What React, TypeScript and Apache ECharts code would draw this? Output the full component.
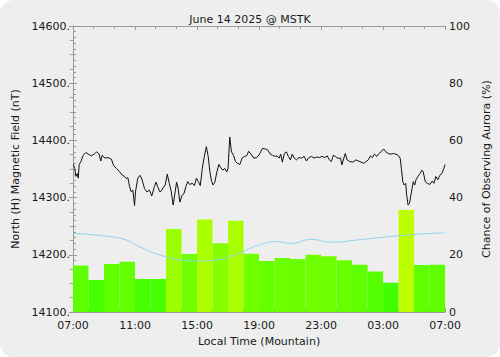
import React, { useEffect, useRef } from "react";
import * as echarts from "echarts";

const titleText = "June 14 2025 @ MSTK";
const xTickLabels = ["07:00", "11:00", "15:00", "19:00", "23:00", "03:00", "07:00"];

// Magnetic field (hours since 07:00 local, nT)
const magHours = [
  0.02, 0.11, 0.19, 0.28, 0.34, 0.4, 0.51, 0.66, 0.83, 0.98, 1.2, 1.41, 1.52, 1.68, 1.79, 1.88, 2.05, 2.26, 2.48, 2.62,
  2.8, 3.01, 3.18, 3.33, 3.44, 3.54, 3.65, 3.76, 3.86, 3.97, 4.03, 4.18, 4.33, 4.46, 4.61, 4.76, 4.93, 5.08, 5.25, 5.36,
  5.46, 5.61, 5.74, 5.78, 5.95, 6.08, 6.21, 6.34, 6.46, 6.59, 6.68, 6.78, 6.89, 7.02, 7.17, 7.28, 7.4, 7.53, 7.7, 7.83,
  7.96, 8.08, 8.21, 8.34, 8.47, 8.6, 8.72, 8.83, 8.94, 9.04, 9.15, 9.28, 9.41, 9.54, 9.66, 9.79, 9.92, 10.0, 10.11, 10.22,
  10.35, 10.48, 10.6, 10.77, 10.9, 11.07, 11.2, 11.33, 11.48, 11.65, 11.86, 12.03, 12.22, 12.4, 12.56, 12.72, 12.86, 13.04, 13.16, 13.29,
  13.4, 13.5, 13.63, 13.76, 13.89, 14.02, 14.14, 14.27, 14.42, 14.57, 14.74, 14.91, 15.06, 15.21, 15.38, 15.55, 15.72, 15.89, 16.06, 16.24,
  16.4, 16.53, 16.66, 16.79, 16.92, 17.04, 17.26, 17.34, 17.47, 17.56, 17.68, 17.84, 18.05, 18.26, 18.41, 18.58, 18.75, 18.9, 19.05, 19.18,
  19.31, 19.44, 19.6, 19.73, 19.9, 20.03, 20.18, 20.33, 20.5, 20.67, 20.82, 20.97, 21.1, 21.18, 21.27, 21.36, 21.46, 21.52, 21.61, 21.7,
  21.78, 21.87, 21.95, 22.04, 22.12, 22.25, 22.38, 22.51, 22.59, 22.72, 22.85, 23.02, 23.17, 23.28, 23.4, 23.53, 23.66, 23.79, 23.92, 24.0,
];
const magValues = [
  14358, 14351, 14337, 14342, 14334, 14358, 14363, 14374, 14379, 14376, 14373, 14377, 14380, 14376, 14364, 14374, 14369, 14370, 14367, 14356,
  14351, 14345, 14339, 14337, 14333, 14335, 14319, 14310, 14313, 14286, 14310, 14334, 14339, 14331, 14316, 14310, 14313, 14303, 14319, 14327,
  14319, 14310, 14313, 14316, 14322, 14341, 14325, 14310, 14287, 14310, 14327, 14316, 14292, 14303, 14308, 14319, 14328, 14323, 14325, 14321,
  14334, 14328, 14321, 14351, 14372, 14389, 14372, 14345, 14328, 14322, 14327, 14345, 14358, 14352, 14348, 14351, 14345, 14351, 14406, 14380,
  14374, 14363, 14360, 14358, 14369, 14372, 14373, 14381, 14376, 14369, 14370, 14376, 14386, 14385, 14383, 14376, 14374, 14372, 14373, 14369,
  14376, 14362, 14377, 14380, 14372, 14366, 14376, 14369, 14366, 14370, 14369, 14372, 14364, 14370, 14372, 14369, 14371, 14370, 14372, 14370,
  14373, 14366, 14363, 14374, 14372, 14369, 14369, 14357, 14369, 14377, 14366, 14363, 14362, 14366, 14364, 14362, 14360, 14363, 14366, 14373,
  14370, 14376, 14372, 14377, 14381, 14385, 14380, 14377, 14376, 14377, 14376, 14374, 14369, 14351, 14328, 14322, 14325, 14305, 14287, 14290,
  14302, 14316, 14328, 14322, 14331, 14337, 14342, 14348, 14345, 14328, 14325, 14323, 14329, 14325, 14337, 14331, 14339, 14342, 14351, 14358,
];

// Smooth light-blue curve (right axis, %)
const probHours = [0, 2.16, 3.44, 4.29, 6.02, 7.92, 9.2, 10.69, 11.97, 13.04, 14.08, 15.36, 16.64, 18.37, 19.44, 20.93, 22.21, 24];
const probValues = [27.5, 26.5, 25.2, 22.8, 19.3, 17.8, 18.2, 20.5, 23.4, 24.6, 24.0, 25.4, 24.4, 25.2, 25.8, 26.6, 27.2, 27.7];

// Hourly chance of observing aurora (%)
const barHours = ["07", "08", "09", "10", "11", "12", "13", "14", "15", "16", "17", "18", "19", "20", "21", "22", "23", "00", "01", "02", "03", "04", "05", "06"];
const barValues = [16.3, 11.2, 16.8, 17.6, 11.5, 11.5, 29.0, 20.3, 32.3, 24.0, 31.9, 20.4, 17.8, 18.9, 18.5, 20.0, 19.5, 18.1, 16.5, 14.2, 10.2, 35.7, 16.4, 16.5];

function barColor(v: number) {
  const r = Math.round(Math.min(255, 16 + 4.8 * v));
  return `rgb(${r},255,0)`;
}

const FONT = "DejaVu Sans, Verdana, sans-serif";
const FS = 11;
const AX = "#9a9a9a";
const TXT = "#1a1a1a";

export default function App() {
  const ref = useRef<HTMLDivElement>(null);
  useEffect(() => {
    document.body.style.margin = "0";
    const chart = echarts.init(ref.current!, null, { renderer: "svg" });
    const tickCommon = { show: true, inside: true, length: 4, lineStyle: { color: AX } };
    chart.setOption({
      animation: false,
      backgroundColor: "transparent",
      title: {
        text: titleText,
        left: "center",
        top: 9,
        textStyle: { fontFamily: FONT, fontSize: FS, fontWeight: "normal", color: TXT },
      },
      grid: { left: 73, right: 52, top: 26, bottom: 45 },
      xAxis: [
        {
          type: "value",
          min: 0,
          max: 24,
          interval: 4,
          position: "bottom",
          name: "Local Time (Mountain)",
          nameLocation: "middle",
          nameGap: 22,
          nameTextStyle: { fontFamily: FONT, fontSize: FS, color: TXT },
          axisLine: { show: true, lineStyle: { color: AX } },
          axisTick: tickCommon,
          minorTick: { show: true, splitNumber: 4, length: 3, lineStyle: { color: AX } },
          splitLine: { show: false },
          axisLabel: {
            fontFamily: FONT,
            fontSize: FS,
            color: TXT,
            margin: 8,
            formatter: (v: number) => xTickLabels[Math.round(v / 4)] ?? "",
          },
        },
        {
          type: "value",
          min: 0,
          max: 24,
          interval: 4,
          position: "top",
          axisLine: { show: true, lineStyle: { color: AX } },
          axisTick: tickCommon,
          minorTick: { show: true, splitNumber: 3, length: 3, lineStyle: { color: AX } },
          splitLine: { show: false },
          axisLabel: { show: false },
        },
        {
          type: "category",
          data: barHours,
          boundaryGap: true,
          show: false,
        },
      ],
      yAxis: [
        {
          type: "value",
          min: 14100,
          max: 14600,
          interval: 100,
          position: "left",
          name: "North (H) Magnetic Field (nT)",
          nameLocation: "middle",
          nameGap: 50,
          nameTextStyle: { fontFamily: FONT, fontSize: FS, color: TXT },
          axisLine: { show: true, lineStyle: { color: AX } },
          axisTick: tickCommon,
          minorTick: { show: true, splitNumber: 10, length: 3, lineStyle: { color: AX } },
          splitLine: { show: false },
          axisLabel: { fontFamily: FONT, fontSize: FS, color: TXT, margin: 3, formatter: (v: number) => v + "." },
        },
        {
          type: "value",
          min: 0,
          max: 100,
          interval: 20,
          position: "right",
          name: "Chance of Observing Aurora (%)",
          nameLocation: "middle",
          nameGap: 27,
          nameRotate: 90,
          nameTextStyle: { fontFamily: FONT, fontSize: FS, color: TXT },
          axisLine: { show: true, lineStyle: { color: AX } },
          axisTick: tickCommon,
          minorTick: { show: true, splitNumber: 4, length: 3, lineStyle: { color: AX } },
          splitLine: { show: false },
          axisLabel: { fontFamily: FONT, fontSize: FS, color: TXT, margin: 4 },
        },
      ],
      series: [
        {
          type: "bar",
          xAxisIndex: 2,
          yAxisIndex: 1,
          barCategoryGap: "0%",
          data: barValues.map((v) => ({
            value: v,
            itemStyle: { color: barColor(v) },
          })),
          z: 1,
        },
        {
          type: "line",
          xAxisIndex: 0,
          yAxisIndex: 1,
          data: probHours.map((h, i) => [h, probValues[i]]),
          smooth: true,
          showSymbol: false,
          lineStyle: { color: "#8fd3f2", width: 1 },
          z: 2,
        },
        {
          type: "line",
          xAxisIndex: 0,
          yAxisIndex: 0,
          data: magHours.map((h, i) => [h, magValues[i]]),
          showSymbol: false,
          lineStyle: { color: "#111111", width: 1 },
          z: 3,
        },
      ],
    });
    return () => chart.dispose();
  }, []);
  return (
    <div style={{ width: 500, height: 357, background: "#ffffff" }}>
      <div
        ref={ref}
        style={{ width: 500, height: 357, background: "#eeeeee", borderRadius: 14, overflow: "hidden" }}
      />
    </div>
  );
}
